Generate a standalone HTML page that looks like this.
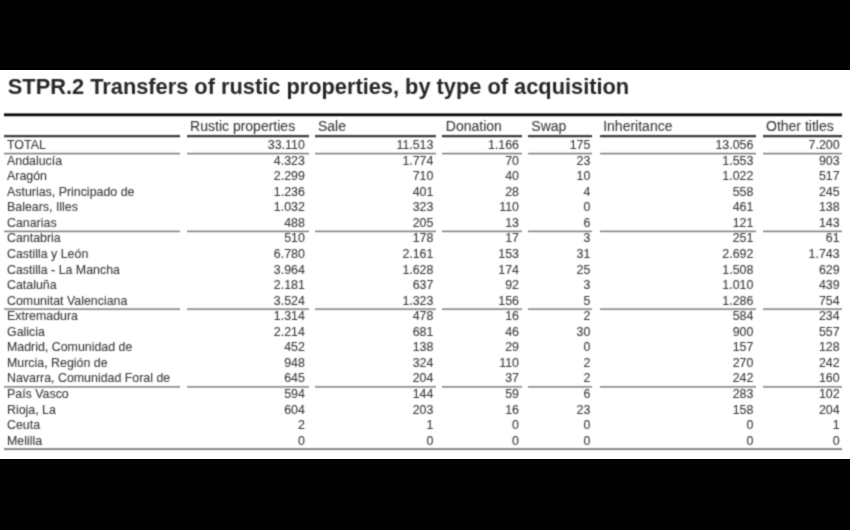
<!DOCTYPE html>
<html><head><meta charset="utf-8"><style>
html,body{margin:0;padding:0;}
body{width:850px;height:530px;background:#000;position:relative;overflow:hidden;}
#c{position:absolute;left:0;top:0;width:850px;height:530px;filter:url(#f);}
#w{position:absolute;left:0;top:70px;width:850px;height:389px;background:#fff;}
.t,.h,.d{position:absolute;white-space:nowrap;font-family:"Liberation Sans",Arial,sans-serif;line-height:1;}
.t{font-size:21.8px;font-weight:bold;color:#262626;}
.h{font-size:14px;color:#3a3a3a;-webkit-text-stroke:0.1px currentColor;}
.d{font-size:12.4px;color:#3a3a3a;-webkit-text-stroke:0.1px currentColor;}
.rule{position:absolute;}
</style></head><body>
<svg width="0" height="0" style="position:absolute"><filter id="f" x="0" y="0" width="100%" height="100%" color-interpolation-filters="sRGB"><feConvolveMatrix order="3" kernelMatrix="0.0361 0.1178 0.0361 0.1178 0.3844 0.1178 0.0361 0.1178 0.0361" edgeMode="none" preserveAlpha="false"/></filter></svg>
<div id="w"></div>
<div id="c">
<div class="t" style="left:7.80px;top:76.15px">STPR.2 Transfers of rustic properties, by type of acquisition</div>
<div class="rule" style="left:4px;top:112px;width:837.50px;height:5px;background:linear-gradient(to bottom,rgba(0,0,0,0) 0px 1px,rgba(0,0,0,0.571) 1px 2px,rgba(0,0,0,0.999) 2px 3px,rgba(0,0,0,0.964) 3px 4px,rgba(0,0,0,0.211) 4px 5px)"></div>
<div class="rule" style="left:4px;top:134px;width:176.00px;height:4px;background:linear-gradient(to bottom,rgba(42,42,42,0.057) 0px 1px,rgba(42,42,42,0.843) 1px 2px,rgba(42,42,42,0.97) 2px 3px,rgba(42,42,42,0.23) 3px 4px)"></div>
<div class="rule" style="left:187px;top:134px;width:121.50px;height:4px;background:linear-gradient(to bottom,rgba(42,42,42,0.057) 0px 1px,rgba(42,42,42,0.843) 1px 2px,rgba(42,42,42,0.97) 2px 3px,rgba(42,42,42,0.23) 3px 4px)"></div>
<div class="rule" style="left:314.5px;top:134px;width:121.20px;height:4px;background:linear-gradient(to bottom,rgba(42,42,42,0.057) 0px 1px,rgba(42,42,42,0.843) 1px 2px,rgba(42,42,42,0.97) 2px 3px,rgba(42,42,42,0.23) 3px 4px)"></div>
<div class="rule" style="left:442px;top:134px;width:79.60px;height:4px;background:linear-gradient(to bottom,rgba(42,42,42,0.057) 0px 1px,rgba(42,42,42,0.843) 1px 2px,rgba(42,42,42,0.97) 2px 3px,rgba(42,42,42,0.23) 3px 4px)"></div>
<div class="rule" style="left:528px;top:134px;width:64.30px;height:4px;background:linear-gradient(to bottom,rgba(42,42,42,0.057) 0px 1px,rgba(42,42,42,0.843) 1px 2px,rgba(42,42,42,0.97) 2px 3px,rgba(42,42,42,0.23) 3px 4px)"></div>
<div class="rule" style="left:599.5px;top:134px;width:156.50px;height:4px;background:linear-gradient(to bottom,rgba(42,42,42,0.057) 0px 1px,rgba(42,42,42,0.843) 1px 2px,rgba(42,42,42,0.97) 2px 3px,rgba(42,42,42,0.23) 3px 4px)"></div>
<div class="rule" style="left:763px;top:134px;width:78.50px;height:4px;background:linear-gradient(to bottom,rgba(42,42,42,0.057) 0px 1px,rgba(42,42,42,0.843) 1px 2px,rgba(42,42,42,0.97) 2px 3px,rgba(42,42,42,0.23) 3px 4px)"></div>
<div class="h" style="left:190.10px;top:118.65px">Rustic properties</div>
<div class="h" style="left:318.00px;top:118.65px">Sale</div>
<div class="h" style="left:445.80px;top:118.65px">Donation</div>
<div class="h" style="left:531.30px;top:118.65px">Swap</div>
<div class="h" style="left:603.20px;top:118.65px">Inheritance</div>
<div class="h" style="left:766.00px;top:118.65px">Other titles</div>
<div class="d" style="left:7.00px;top:139.10px">TOTAL</div>
<div class="d r" style="right:545.20px;top:139.10px">33.110</div>
<div class="d r" style="right:416.60px;top:139.10px">11.513</div>
<div class="d r" style="right:331.00px;top:139.10px">1.166</div>
<div class="d r" style="right:259.70px;top:139.10px">175</div>
<div class="d r" style="right:96.70px;top:139.10px">13.056</div>
<div class="d r" style="right:10.40px;top:139.10px">7.200</div>
<div class="d" style="left:7.00px;top:154.66px">Andalucía</div>
<div class="d r" style="right:545.20px;top:154.66px">4.323</div>
<div class="d r" style="right:416.60px;top:154.66px">1.774</div>
<div class="d r" style="right:331.00px;top:154.66px">70</div>
<div class="d r" style="right:259.70px;top:154.66px">23</div>
<div class="d r" style="right:96.70px;top:154.66px">1.553</div>
<div class="d r" style="right:10.40px;top:154.66px">903</div>
<div class="d" style="left:7.00px;top:170.21px">Aragón</div>
<div class="d r" style="right:545.20px;top:170.21px">2.299</div>
<div class="d r" style="right:416.60px;top:170.21px">710</div>
<div class="d r" style="right:331.00px;top:170.21px">40</div>
<div class="d r" style="right:259.70px;top:170.21px">10</div>
<div class="d r" style="right:96.70px;top:170.21px">1.022</div>
<div class="d r" style="right:10.40px;top:170.21px">517</div>
<div class="d" style="left:7.00px;top:185.76px">Asturias, Principado de</div>
<div class="d r" style="right:545.20px;top:185.76px">1.236</div>
<div class="d r" style="right:416.60px;top:185.76px">401</div>
<div class="d r" style="right:331.00px;top:185.76px">28</div>
<div class="d r" style="right:259.70px;top:185.76px">4</div>
<div class="d r" style="right:96.70px;top:185.76px">558</div>
<div class="d r" style="right:10.40px;top:185.76px">245</div>
<div class="d" style="left:7.00px;top:201.32px">Balears, Illes</div>
<div class="d r" style="right:545.20px;top:201.32px">1.032</div>
<div class="d r" style="right:416.60px;top:201.32px">323</div>
<div class="d r" style="right:331.00px;top:201.32px">110</div>
<div class="d r" style="right:259.70px;top:201.32px">0</div>
<div class="d r" style="right:96.70px;top:201.32px">461</div>
<div class="d r" style="right:10.40px;top:201.32px">138</div>
<div class="d" style="left:7.00px;top:216.87px">Canarias</div>
<div class="d r" style="right:545.20px;top:216.87px">488</div>
<div class="d r" style="right:416.60px;top:216.87px">205</div>
<div class="d r" style="right:331.00px;top:216.87px">13</div>
<div class="d r" style="right:259.70px;top:216.87px">6</div>
<div class="d r" style="right:96.70px;top:216.87px">121</div>
<div class="d r" style="right:10.40px;top:216.87px">143</div>
<div class="d" style="left:7.00px;top:232.42px">Cantabria</div>
<div class="d r" style="right:545.20px;top:232.42px">510</div>
<div class="d r" style="right:416.60px;top:232.42px">178</div>
<div class="d r" style="right:331.00px;top:232.42px">17</div>
<div class="d r" style="right:259.70px;top:232.42px">3</div>
<div class="d r" style="right:96.70px;top:232.42px">251</div>
<div class="d r" style="right:10.40px;top:232.42px">61</div>
<div class="d" style="left:7.00px;top:247.97px">Castilla y León</div>
<div class="d r" style="right:545.20px;top:247.97px">6.780</div>
<div class="d r" style="right:416.60px;top:247.97px">2.161</div>
<div class="d r" style="right:331.00px;top:247.97px">153</div>
<div class="d r" style="right:259.70px;top:247.97px">31</div>
<div class="d r" style="right:96.70px;top:247.97px">2.692</div>
<div class="d r" style="right:10.40px;top:247.97px">1.743</div>
<div class="d" style="left:7.00px;top:263.53px">Castilla - La Mancha</div>
<div class="d r" style="right:545.20px;top:263.53px">3.964</div>
<div class="d r" style="right:416.60px;top:263.53px">1.628</div>
<div class="d r" style="right:331.00px;top:263.53px">174</div>
<div class="d r" style="right:259.70px;top:263.53px">25</div>
<div class="d r" style="right:96.70px;top:263.53px">1.508</div>
<div class="d r" style="right:10.40px;top:263.53px">629</div>
<div class="d" style="left:7.00px;top:279.08px">Cataluña</div>
<div class="d r" style="right:545.20px;top:279.08px">2.181</div>
<div class="d r" style="right:416.60px;top:279.08px">637</div>
<div class="d r" style="right:331.00px;top:279.08px">92</div>
<div class="d r" style="right:259.70px;top:279.08px">3</div>
<div class="d r" style="right:96.70px;top:279.08px">1.010</div>
<div class="d r" style="right:10.40px;top:279.08px">439</div>
<div class="d" style="left:7.00px;top:294.63px">Comunitat Valenciana</div>
<div class="d r" style="right:545.20px;top:294.63px">3.524</div>
<div class="d r" style="right:416.60px;top:294.63px">1.323</div>
<div class="d r" style="right:331.00px;top:294.63px">156</div>
<div class="d r" style="right:259.70px;top:294.63px">5</div>
<div class="d r" style="right:96.70px;top:294.63px">1.286</div>
<div class="d r" style="right:10.40px;top:294.63px">754</div>
<div class="d" style="left:7.00px;top:310.19px">Extremadura</div>
<div class="d r" style="right:545.20px;top:310.19px">1.314</div>
<div class="d r" style="right:416.60px;top:310.19px">478</div>
<div class="d r" style="right:331.00px;top:310.19px">16</div>
<div class="d r" style="right:259.70px;top:310.19px">2</div>
<div class="d r" style="right:96.70px;top:310.19px">584</div>
<div class="d r" style="right:10.40px;top:310.19px">234</div>
<div class="d" style="left:7.00px;top:325.74px">Galicia</div>
<div class="d r" style="right:545.20px;top:325.74px">2.214</div>
<div class="d r" style="right:416.60px;top:325.74px">681</div>
<div class="d r" style="right:331.00px;top:325.74px">46</div>
<div class="d r" style="right:259.70px;top:325.74px">30</div>
<div class="d r" style="right:96.70px;top:325.74px">900</div>
<div class="d r" style="right:10.40px;top:325.74px">557</div>
<div class="d" style="left:7.00px;top:341.29px">Madrid, Comunidad de</div>
<div class="d r" style="right:545.20px;top:341.29px">452</div>
<div class="d r" style="right:416.60px;top:341.29px">138</div>
<div class="d r" style="right:331.00px;top:341.29px">29</div>
<div class="d r" style="right:259.70px;top:341.29px">0</div>
<div class="d r" style="right:96.70px;top:341.29px">157</div>
<div class="d r" style="right:10.40px;top:341.29px">128</div>
<div class="d" style="left:7.00px;top:356.85px">Murcia, Región de</div>
<div class="d r" style="right:545.20px;top:356.85px">948</div>
<div class="d r" style="right:416.60px;top:356.85px">324</div>
<div class="d r" style="right:331.00px;top:356.85px">110</div>
<div class="d r" style="right:259.70px;top:356.85px">2</div>
<div class="d r" style="right:96.70px;top:356.85px">270</div>
<div class="d r" style="right:10.40px;top:356.85px">242</div>
<div class="d" style="left:7.00px;top:372.40px">Navarra, Comunidad Foral de</div>
<div class="d r" style="right:545.20px;top:372.40px">645</div>
<div class="d r" style="right:416.60px;top:372.40px">204</div>
<div class="d r" style="right:331.00px;top:372.40px">37</div>
<div class="d r" style="right:259.70px;top:372.40px">2</div>
<div class="d r" style="right:96.70px;top:372.40px">242</div>
<div class="d r" style="right:10.40px;top:372.40px">160</div>
<div class="d" style="left:7.00px;top:387.95px">País Vasco</div>
<div class="d r" style="right:545.20px;top:387.95px">594</div>
<div class="d r" style="right:416.60px;top:387.95px">144</div>
<div class="d r" style="right:331.00px;top:387.95px">59</div>
<div class="d r" style="right:259.70px;top:387.95px">6</div>
<div class="d r" style="right:96.70px;top:387.95px">283</div>
<div class="d r" style="right:10.40px;top:387.95px">102</div>
<div class="d" style="left:7.00px;top:403.50px">Rioja, La</div>
<div class="d r" style="right:545.20px;top:403.50px">604</div>
<div class="d r" style="right:416.60px;top:403.50px">203</div>
<div class="d r" style="right:331.00px;top:403.50px">16</div>
<div class="d r" style="right:259.70px;top:403.50px">23</div>
<div class="d r" style="right:96.70px;top:403.50px">158</div>
<div class="d r" style="right:10.40px;top:403.50px">204</div>
<div class="d" style="left:7.00px;top:419.06px">Ceuta</div>
<div class="d r" style="right:545.20px;top:419.06px">2</div>
<div class="d r" style="right:416.60px;top:419.06px">1</div>
<div class="d r" style="right:331.00px;top:419.06px">0</div>
<div class="d r" style="right:259.70px;top:419.06px">0</div>
<div class="d r" style="right:96.70px;top:419.06px">0</div>
<div class="d r" style="right:10.40px;top:419.06px">1</div>
<div class="d" style="left:7.00px;top:434.61px">Melilla</div>
<div class="d r" style="right:545.20px;top:434.61px">0</div>
<div class="d r" style="right:416.60px;top:434.61px">0</div>
<div class="d r" style="right:331.00px;top:434.61px">0</div>
<div class="d r" style="right:259.70px;top:434.61px">0</div>
<div class="d r" style="right:96.70px;top:434.61px">0</div>
<div class="d r" style="right:10.40px;top:434.61px">0</div>
<div class="rule" style="left:4px;top:152px;width:176.00px;height:4px;background:linear-gradient(to bottom,rgba(112,112,112,0.157) 0px 1px,rgba(112,112,112,0.929) 1px 2px,rgba(112,112,112,0.314) 2px 3px,rgba(112,112,112,0) 3px 4px)"></div>
<div class="rule" style="left:187px;top:152px;width:121.50px;height:4px;background:linear-gradient(to bottom,rgba(112,112,112,0.157) 0px 1px,rgba(112,112,112,0.929) 1px 2px,rgba(112,112,112,0.314) 2px 3px,rgba(112,112,112,0) 3px 4px)"></div>
<div class="rule" style="left:314.5px;top:152px;width:121.20px;height:4px;background:linear-gradient(to bottom,rgba(112,112,112,0.157) 0px 1px,rgba(112,112,112,0.929) 1px 2px,rgba(112,112,112,0.314) 2px 3px,rgba(112,112,112,0) 3px 4px)"></div>
<div class="rule" style="left:442px;top:152px;width:79.60px;height:4px;background:linear-gradient(to bottom,rgba(112,112,112,0.157) 0px 1px,rgba(112,112,112,0.929) 1px 2px,rgba(112,112,112,0.314) 2px 3px,rgba(112,112,112,0) 3px 4px)"></div>
<div class="rule" style="left:528px;top:152px;width:64.30px;height:4px;background:linear-gradient(to bottom,rgba(112,112,112,0.157) 0px 1px,rgba(112,112,112,0.929) 1px 2px,rgba(112,112,112,0.314) 2px 3px,rgba(112,112,112,0) 3px 4px)"></div>
<div class="rule" style="left:599.5px;top:152px;width:156.50px;height:4px;background:linear-gradient(to bottom,rgba(112,112,112,0.157) 0px 1px,rgba(112,112,112,0.929) 1px 2px,rgba(112,112,112,0.314) 2px 3px,rgba(112,112,112,0) 3px 4px)"></div>
<div class="rule" style="left:763px;top:152px;width:78.50px;height:4px;background:linear-gradient(to bottom,rgba(112,112,112,0.157) 0px 1px,rgba(112,112,112,0.929) 1px 2px,rgba(112,112,112,0.314) 2px 3px,rgba(112,112,112,0) 3px 4px)"></div>
<div class="rule" style="left:4px;top:229px;width:176.00px;height:4px;background:linear-gradient(to bottom,rgba(112,112,112,0) 0px 1px,rgba(112,112,112,0.345) 1px 2px,rgba(112,112,112,0.919) 2px 3px,rgba(112,112,112,0.135) 3px 4px)"></div>
<div class="rule" style="left:187px;top:229px;width:121.50px;height:4px;background:linear-gradient(to bottom,rgba(112,112,112,0) 0px 1px,rgba(112,112,112,0.345) 1px 2px,rgba(112,112,112,0.919) 2px 3px,rgba(112,112,112,0.135) 3px 4px)"></div>
<div class="rule" style="left:314.5px;top:229px;width:121.20px;height:4px;background:linear-gradient(to bottom,rgba(112,112,112,0) 0px 1px,rgba(112,112,112,0.345) 1px 2px,rgba(112,112,112,0.919) 2px 3px,rgba(112,112,112,0.135) 3px 4px)"></div>
<div class="rule" style="left:442px;top:229px;width:79.60px;height:4px;background:linear-gradient(to bottom,rgba(112,112,112,0) 0px 1px,rgba(112,112,112,0.345) 1px 2px,rgba(112,112,112,0.919) 2px 3px,rgba(112,112,112,0.135) 3px 4px)"></div>
<div class="rule" style="left:528px;top:229px;width:64.30px;height:4px;background:linear-gradient(to bottom,rgba(112,112,112,0) 0px 1px,rgba(112,112,112,0.345) 1px 2px,rgba(112,112,112,0.919) 2px 3px,rgba(112,112,112,0.135) 3px 4px)"></div>
<div class="rule" style="left:599.5px;top:229px;width:156.50px;height:4px;background:linear-gradient(to bottom,rgba(112,112,112,0) 0px 1px,rgba(112,112,112,0.345) 1px 2px,rgba(112,112,112,0.919) 2px 3px,rgba(112,112,112,0.135) 3px 4px)"></div>
<div class="rule" style="left:763px;top:229px;width:78.50px;height:4px;background:linear-gradient(to bottom,rgba(112,112,112,0) 0px 1px,rgba(112,112,112,0.345) 1px 2px,rgba(112,112,112,0.919) 2px 3px,rgba(112,112,112,0.135) 3px 4px)"></div>
<div class="rule" style="left:4px;top:307px;width:176.00px;height:4px;background:linear-gradient(to bottom,rgba(112,112,112,0) 0px 1px,rgba(112,112,112,0.567) 1px 2px,rgba(112,112,112,0.792) 2px 3px,rgba(112,112,112,0.037) 3px 4px)"></div>
<div class="rule" style="left:187px;top:307px;width:121.50px;height:4px;background:linear-gradient(to bottom,rgba(112,112,112,0) 0px 1px,rgba(112,112,112,0.567) 1px 2px,rgba(112,112,112,0.792) 2px 3px,rgba(112,112,112,0.037) 3px 4px)"></div>
<div class="rule" style="left:314.5px;top:307px;width:121.20px;height:4px;background:linear-gradient(to bottom,rgba(112,112,112,0) 0px 1px,rgba(112,112,112,0.567) 1px 2px,rgba(112,112,112,0.792) 2px 3px,rgba(112,112,112,0.037) 3px 4px)"></div>
<div class="rule" style="left:442px;top:307px;width:79.60px;height:4px;background:linear-gradient(to bottom,rgba(112,112,112,0) 0px 1px,rgba(112,112,112,0.567) 1px 2px,rgba(112,112,112,0.792) 2px 3px,rgba(112,112,112,0.037) 3px 4px)"></div>
<div class="rule" style="left:528px;top:307px;width:64.30px;height:4px;background:linear-gradient(to bottom,rgba(112,112,112,0) 0px 1px,rgba(112,112,112,0.567) 1px 2px,rgba(112,112,112,0.792) 2px 3px,rgba(112,112,112,0.037) 3px 4px)"></div>
<div class="rule" style="left:599.5px;top:307px;width:156.50px;height:4px;background:linear-gradient(to bottom,rgba(112,112,112,0) 0px 1px,rgba(112,112,112,0.567) 1px 2px,rgba(112,112,112,0.792) 2px 3px,rgba(112,112,112,0.037) 3px 4px)"></div>
<div class="rule" style="left:763px;top:307px;width:78.50px;height:4px;background:linear-gradient(to bottom,rgba(112,112,112,0) 0px 1px,rgba(112,112,112,0.567) 1px 2px,rgba(112,112,112,0.792) 2px 3px,rgba(112,112,112,0.037) 3px 4px)"></div>
<div class="rule" style="left:4px;top:385px;width:176.00px;height:4px;background:linear-gradient(to bottom,rgba(112,112,112,0.031) 0px 1px,rgba(112,112,112,0.773) 1px 2px,rgba(112,112,112,0.59) 2px 3px,rgba(112,112,112,0) 3px 4px)"></div>
<div class="rule" style="left:187px;top:385px;width:121.50px;height:4px;background:linear-gradient(to bottom,rgba(112,112,112,0.031) 0px 1px,rgba(112,112,112,0.773) 1px 2px,rgba(112,112,112,0.59) 2px 3px,rgba(112,112,112,0) 3px 4px)"></div>
<div class="rule" style="left:314.5px;top:385px;width:121.20px;height:4px;background:linear-gradient(to bottom,rgba(112,112,112,0.031) 0px 1px,rgba(112,112,112,0.773) 1px 2px,rgba(112,112,112,0.59) 2px 3px,rgba(112,112,112,0) 3px 4px)"></div>
<div class="rule" style="left:442px;top:385px;width:79.60px;height:4px;background:linear-gradient(to bottom,rgba(112,112,112,0.031) 0px 1px,rgba(112,112,112,0.773) 1px 2px,rgba(112,112,112,0.59) 2px 3px,rgba(112,112,112,0) 3px 4px)"></div>
<div class="rule" style="left:528px;top:385px;width:64.30px;height:4px;background:linear-gradient(to bottom,rgba(112,112,112,0.031) 0px 1px,rgba(112,112,112,0.773) 1px 2px,rgba(112,112,112,0.59) 2px 3px,rgba(112,112,112,0) 3px 4px)"></div>
<div class="rule" style="left:599.5px;top:385px;width:156.50px;height:4px;background:linear-gradient(to bottom,rgba(112,112,112,0.031) 0px 1px,rgba(112,112,112,0.773) 1px 2px,rgba(112,112,112,0.59) 2px 3px,rgba(112,112,112,0) 3px 4px)"></div>
<div class="rule" style="left:763px;top:385px;width:78.50px;height:4px;background:linear-gradient(to bottom,rgba(112,112,112,0.031) 0px 1px,rgba(112,112,112,0.773) 1px 2px,rgba(112,112,112,0.59) 2px 3px,rgba(112,112,112,0) 3px 4px)"></div>
<div class="rule" style="left:4px;top:447px;width:837.50px;height:4px;background:linear-gradient(to bottom,rgba(112,112,112,0.02) 0px 1px,rgba(112,112,112,0.723) 1px 2px,rgba(112,112,112,0.877) 2px 3px,rgba(112,112,112,0.08) 3px 4px)"></div>
</div>
</body></html>
